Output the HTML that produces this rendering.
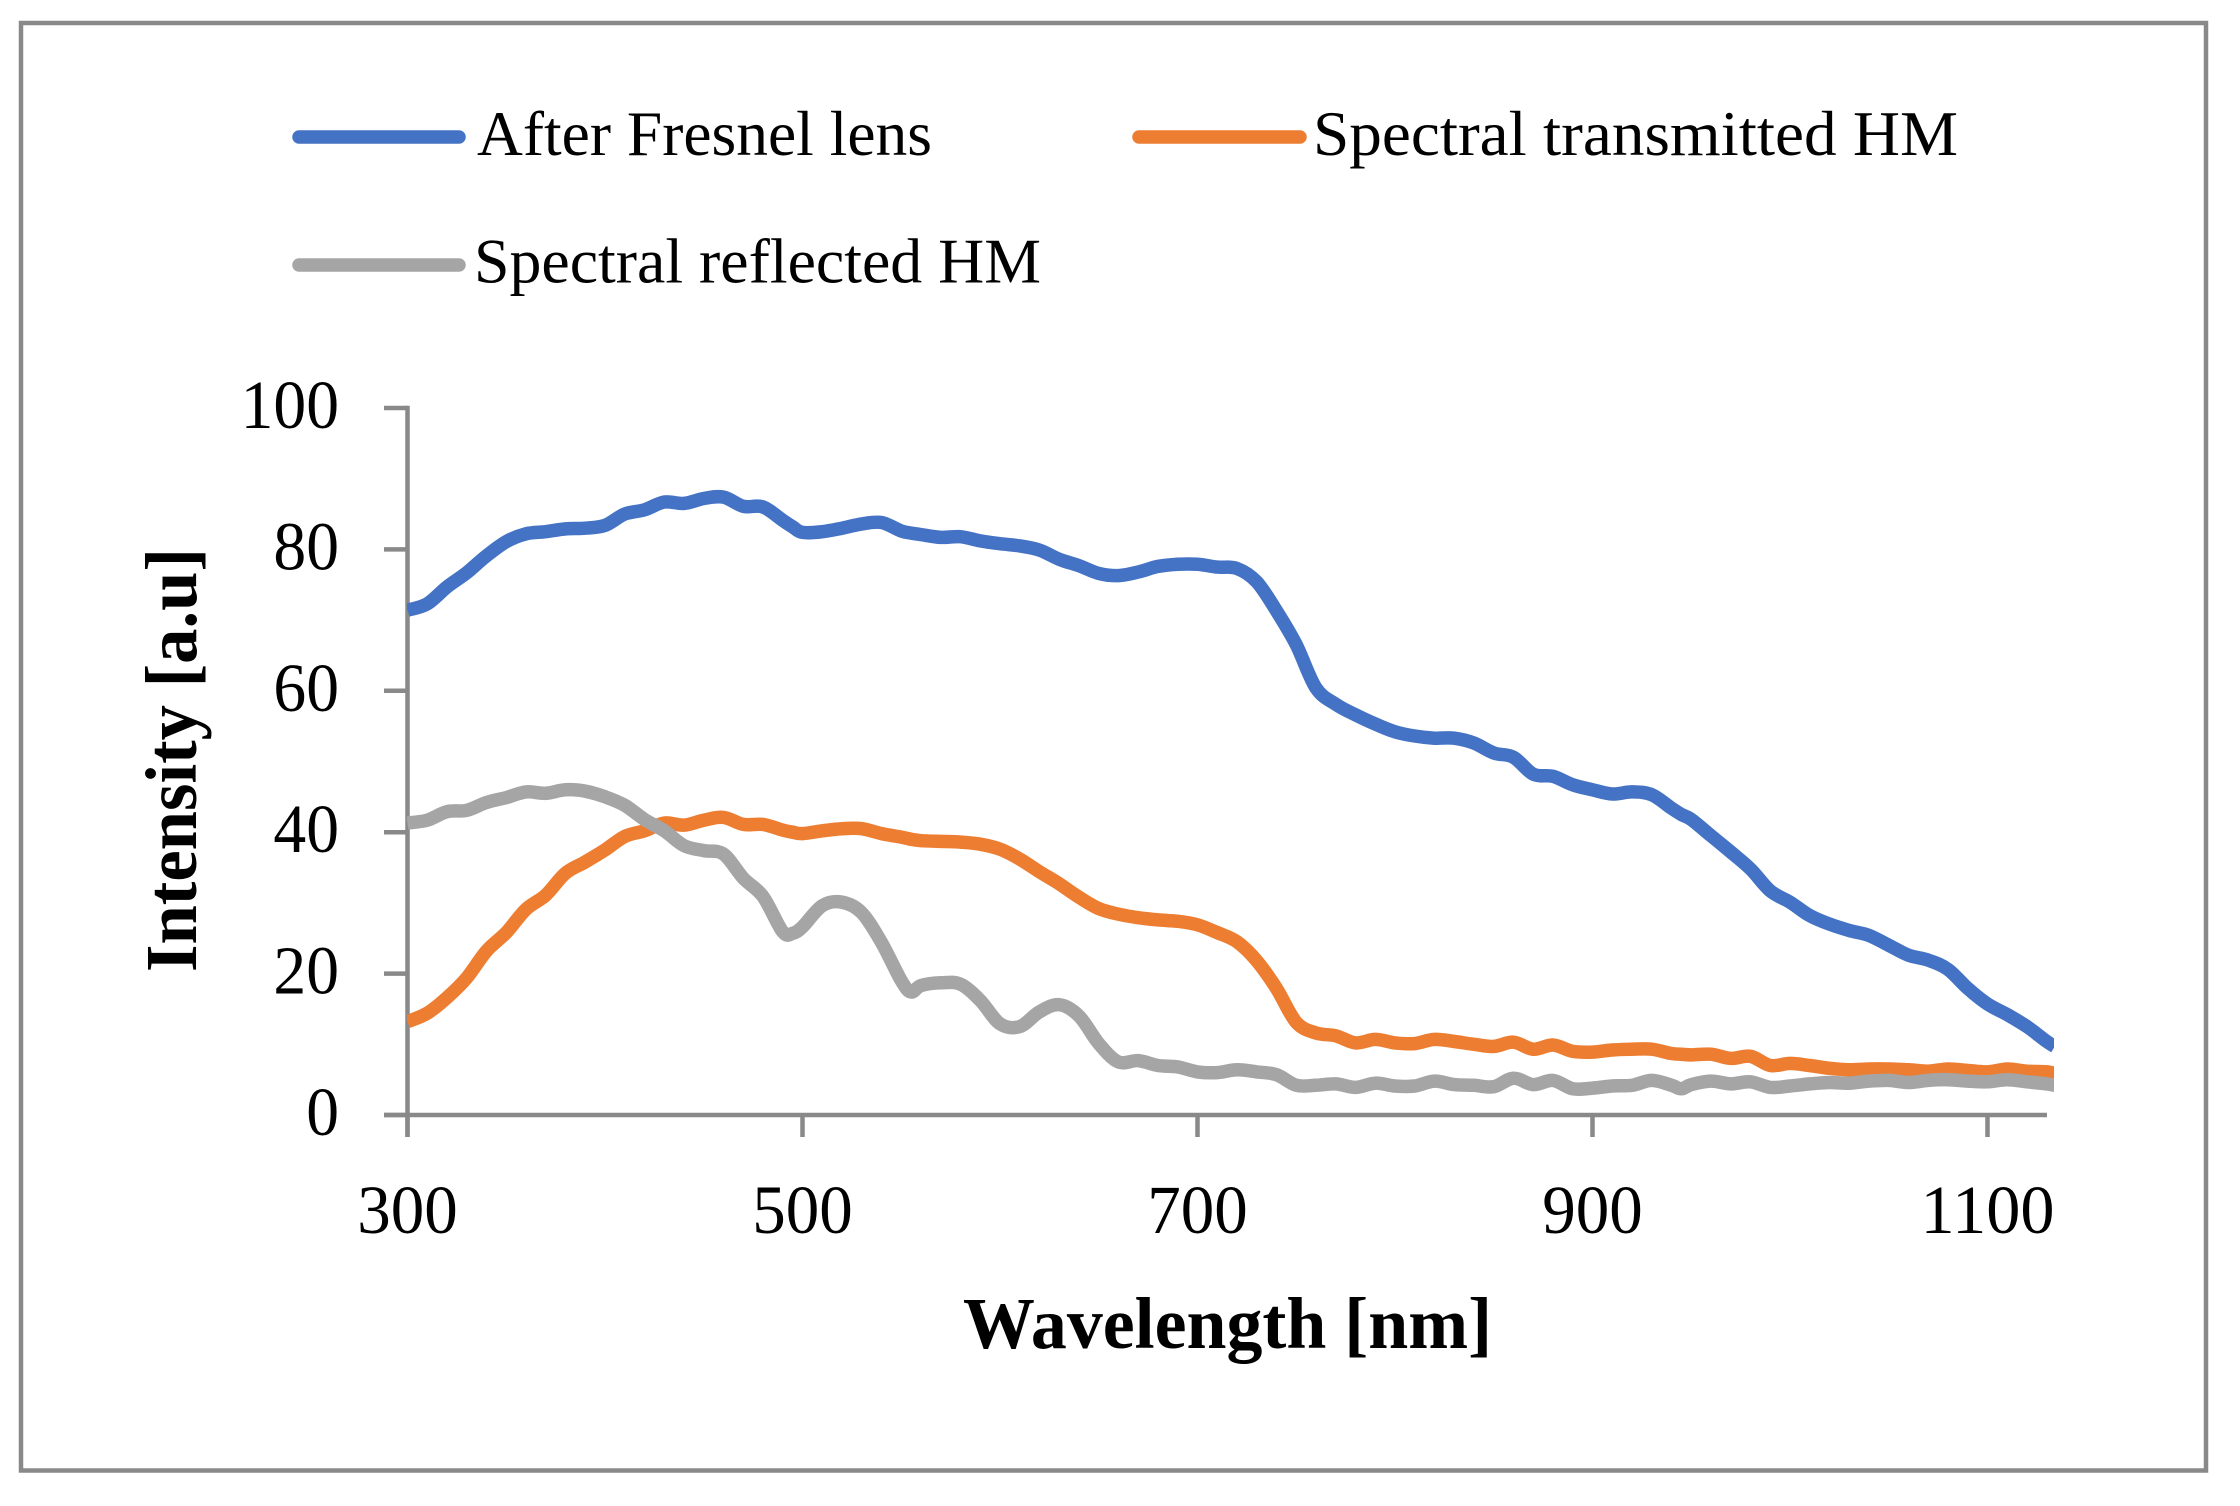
<!DOCTYPE html>
<html lang="en">
<head>
<meta charset="utf-8">
<title>Spectral intensity chart</title>
<style>
  html, body { margin: 0; padding: 0; background: #ffffff; }
  svg { display: block; }
  text { font-family: "Liberation Serif", serif; fill: #000000; }
</style>
</head>
<body>
<svg id="chart" xmlns="http://www.w3.org/2000/svg" width="2240" height="1506" viewBox="0 0 2240 1506">
  <defs>
    <clipPath id="plot-clip"><rect x="407" y="380" width="1647" height="760"></rect></clipPath>
  </defs>
  <rect x="21" y="23" width="2185" height="1447.5" fill="#ffffff" stroke="#898989" stroke-width="4.5"></rect>

  <g>
    <g>
      <line x1="299" y1="137" x2="459" y2="137" stroke="#4472C4" stroke-width="13.5" stroke-linecap="round"></line>
      <text x="477" y="155" font-size="64" textLength="455" lengthAdjust="spacingAndGlyphs">After Fresnel lens</text>
    </g>
    <g>
      <line x1="1139" y1="137" x2="1300" y2="137" stroke="#ED7D31" stroke-width="13.5" stroke-linecap="round"></line>
      <text x="1313" y="155" font-size="64" textLength="645" lengthAdjust="spacingAndGlyphs">Spectral transmitted HM</text>
    </g>
    <g>
      <line x1="299" y1="265" x2="459" y2="265" stroke="#A5A5A5" stroke-width="13.5" stroke-linecap="round"></line>
      <text x="474" y="282.5" font-size="64" textLength="567" lengthAdjust="spacingAndGlyphs">Spectral reflected HM</text>
    </g>
  </g>

  <g id="axes"></g>
  <g id="series" clip-path="url(#plot-clip)"></g>

  <text x="963" y="1348" font-size="73" font-weight="bold" textLength="529" lengthAdjust="spacingAndGlyphs">Wavelength [nm]</text>
  <text transform="translate(196 972) rotate(-90)" x="0" y="0" font-size="73" font-weight="bold" textLength="424" lengthAdjust="spacingAndGlyphs">Intensity [a.u]</text>
</svg>

<script>
const wavelengths = [300,310,320,330,340,350,360,370,380,390,400,410,420,430,440,450,460,470,480,490,495,500,510,520,530,540,550,555,560,570,580,590,600,610,620,630,640,650,660,670,680,690,700,710,720,730,740,750,760,770,780,790,800,810,820,830,840,850,860,870,880,890,900,910,920,930,940,945,950,960,970,980,990,1000,1010,1020,1030,1040,1050,1060,1070,1080,1090,1100,1110,1120,1130,1134];

const afterFresnel = [71.4,72.3,74.7,76.7,79.1,81.1,82.2,82.5,82.9,83,83.4,85,85.6,86.7,86.5,87.2,87.4,86.1,86,84.1,83.2,82.4,82.5,83,83.6,83.8,82.6,82.3,82.1,81.7,81.8,81.2,80.8,80.5,79.9,78.6,77.7,76.6,76.3,76.8,77.6,77.9,77.9,77.5,77.3,75.4,71.3,66.5,60.4,58.1,56.6,55.3,54.2,53.6,53.3,53.3,52.6,51.2,50.6,48.2,47.9,46.7,46,45.4,45.7,45.3,43.4,42.5,41.8,39.5,37.2,34.8,31.7,30.1,28.2,27,26.1,25.4,24,22.6,21.9,20.6,17.9,15.7,14.2,12.5,10.4,9.7];

const transmitted = [13.2,14.4,16.6,19.4,23.2,25.8,29.1,31.1,34.2,35.8,37.5,39.4,40.2,41.3,41,41.7,42.1,41.1,41.1,40.3,40,39.8,40.2,40.5,40.5,39.8,39.3,39,38.8,38.7,38.6,38.3,37.6,36.2,34.4,32.7,30.8,29.2,28.4,27.9,27.6,27.4,26.9,25.8,24.5,21.8,17.9,13.1,11.6,11.2,10.2,10.7,10.2,10.1,10.7,10.4,10,9.7,10.3,9.3,9.9,9,8.9,9.2,9.3,9.3,8.7,8.6,8.5,8.6,8,8.3,7,7.3,7,6.6,6.4,6.5,6.5,6.4,6.2,6.5,6.3,6.1,6.5,6.2,6.1,5.9];

const reflected = [41.3,41.7,42.9,43.1,44.2,44.9,45.7,45.5,46,45.8,45,43.8,41.8,40.2,38.1,37.4,36.9,33.5,30.9,25.9,25.7,26.6,29.6,30.1,28.6,24.4,19,17.4,18.3,18.7,18.5,16.2,12.9,12.5,14.6,15.6,14,10.1,7.5,7.7,7,6.8,6.1,6,6.4,6.1,5.7,4.2,4.2,4.4,3.9,4.5,4.1,4.1,4.8,4.3,4.2,4,5.2,4.3,4.9,3.7,3.8,4.1,4.2,4.9,4.2,3.7,4.3,4.8,4.4,4.7,3.9,4.1,4.4,4.6,4.5,4.8,4.9,4.6,4.9,5,4.8,4.7,5,4.7,4.4,4.2];

const xTickLabels = [300,500,700,900,1100];
const yTickLabels = [0,20,40,60,80,100];

const SVG_NS = 'http://www.w3.org/2000/svg';
const AXIS_COLOR = '#898989';

function xScale(w) { return 407.5 + (w - 300) * 1.975; }
function yScale(v) { return 1115 - v * 7.07; }

const axes = document.getElementById('axes');
const seriesGroup = document.getElementById('series');

function axisLine(parent, x1, y1, x2, y2) {
  const l = document.createElementNS(SVG_NS, 'line');
  l.setAttribute('x1', x1);
  l.setAttribute('y1', y1);
  l.setAttribute('x2', x2);
  l.setAttribute('y2', y2);
  l.setAttribute('stroke', AXIS_COLOR);
  l.setAttribute('stroke-width', '4.5');
  parent.appendChild(l);
  return l;
}

const yAxisLine = axisLine(axes, xScale(300), yScale(100) - 2.2, xScale(300), yScale(0) + 22);



const xAxisLine = axisLine(axes, 384, yScale(0), 2047, yScale(0));



yTickLabels.forEach(function (v) {
  const tick = axisLine(axes, 384, yScale(v), xScale(300), yScale(v));
  
  
  const t = document.createElementNS(SVG_NS, 'text');
  
  
  t.setAttribute('x', 339);
  t.setAttribute('y', yScale(v) + 20);
  t.setAttribute('font-size', '69');
  t.setAttribute('text-anchor', 'end');
  t.setAttribute('textLength', String(v).length * 32.8);
  t.setAttribute('lengthAdjust', 'spacingAndGlyphs');
  t.textContent = v;
  axes.appendChild(t);
});

xTickLabels.forEach(function (w) {
  const tick = axisLine(axes, xScale(w), yScale(0), xScale(w), yScale(0) + 22);
  
  
  const t = document.createElementNS(SVG_NS, 'text');
  
  
  t.setAttribute('x', xScale(w));
  t.setAttribute('y', 1233);
  t.setAttribute('font-size', '69');
  t.setAttribute('text-anchor', 'middle');
  t.setAttribute('textLength', String(w).length * 33.5);
  t.setAttribute('lengthAdjust', 'spacingAndGlyphs');
  t.textContent = w;
  axes.appendChild(t);
});

function drawSeries(values, color, name) {
  const pts = values.map(function (v, i) {
    return [xScale(wavelengths[i]), yScale(v)];
  });
  let d = 'M' + pts[0][0].toFixed(1) + ' ' + pts[0][1].toFixed(1);
  for (let i = 0; i < pts.length - 1; i++) {
    const p0 = pts[Math.max(i - 1, 0)];
    const p1 = pts[i];
    const p2 = pts[i + 1];
    const p3 = pts[Math.min(i + 2, pts.length - 1)];
    const c1x = p1[0] + (p2[0] - p0[0]) / 6;
    const c1y = p1[1] + (p2[1] - p0[1]) / 6;
    const c2x = p2[0] - (p3[0] - p1[0]) / 6;
    const c2y = p2[1] - (p3[1] - p1[1]) / 6;
    d += ' C' + c1x.toFixed(1) + ' ' + c1y.toFixed(1) + ' ' + c2x.toFixed(1) + ' ' + c2y.toFixed(1) + ' ' + p2[0].toFixed(1) + ' ' + p2[1].toFixed(1);
  }
  const p = document.createElementNS(SVG_NS, 'path');
  p.setAttribute('d', d);
  p.setAttribute('fill', 'none');
  p.setAttribute('stroke', color);
  p.setAttribute('stroke-width', '13.5');
  p.setAttribute('stroke-linejoin', 'round');
  p.setAttribute('stroke-linecap', 'butt');
  
  
  seriesGroup.appendChild(p);
}

drawSeries(afterFresnel, '#4472C4', 'series-after-fresnel-lens');
drawSeries(transmitted, '#ED7D31', 'series-spectral-transmitted-hm');
drawSeries(reflected, '#A5A5A5', 'series-spectral-reflected-hm');
</script>
</body>
</html>
